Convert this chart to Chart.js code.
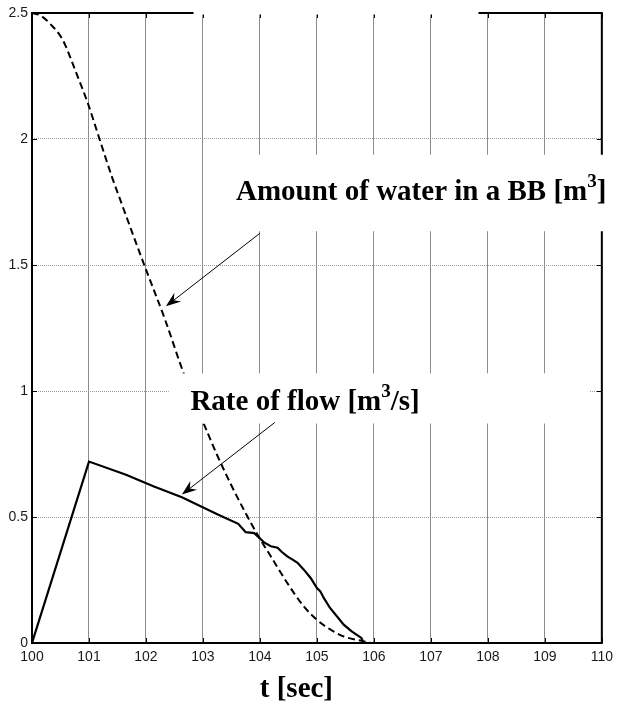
<!DOCTYPE html>
<html>
<head>
<meta charset="utf-8">
<title>Water amount and rate of flow</title>
<style>
  html, body { margin: 0; padding: 0; background: #ffffff; }
  #wrap { width: 619px; height: 706px; }
</style>
<script src="https://cdn.jsdelivr.net/npm/chart.js@4/dist/chart.umd.min.js"></script>
</head>
<body>
<div id="wrap"><canvas id="c" width="619" height="706"></canvas></div>
<script>
// Axis ticks
const timeTicks = [100, 101, 102, 103, 104, 105, 106, 107, 108, 109, 110];
const levelTicks = [0, 0.5, 1, 1.5, 2, 2.5];

// Amount of water in the box [m3] (dashed curve)
const waterTime   = [100, 100.15, 100.31, 100.54, 100.78, 100.98, 101.18, 101.41, 101.53, 101.97, 102.34, 102.66, 103.01, 103.25, 103.5, 103.75, 103.99, 104.19, 104.48, 104.77, 105.0, 105.24, 105.47, 105.76, 105.99, 110];
const waterAmount = [2.5, 2.49, 2.459, 2.393, 2.26, 2.142, 2.003, 1.845, 1.77, 1.5, 1.28, 1.071, 0.873, 0.745, 0.625, 0.515, 0.417, 0.344, 0.238, 0.145, 0.092, 0.053, 0.026, 0.01, 0, 0];

// Rate of flow [m3/s] (solid curve)
const flowTime = [100, 101, 101.65, 102.14, 102.63, 103.27, 103.62, 103.75, 103.9, 104.0, 104.08, 104.19, 104.31, 104.38, 104.48, 104.58, 104.66, 104.77, 104.89, 105.0, 105.06, 105.12, 105.23, 105.35, 105.47, 105.61, 105.78, 105.82, 110];
const flowRate = [0, 0.72, 0.668, 0.621, 0.578, 0.509, 0.473, 0.44, 0.436, 0.415, 0.398, 0.384, 0.378, 0.362, 0.344, 0.33, 0.318, 0.291, 0.258, 0.218, 0.205, 0.179, 0.139, 0.106, 0.073, 0.046, 0.02, 0, 0];

// Text callouts (data coordinates of the text's left baseline, arrow tail and tip)
const callouts = [
  { parts: [["Amount of water in a BB [m", false], ["3", true], ["]", false]],
    at: [103.58, 1.757], tail: [104.0, 1.626], tip: [102.35, 1.336] },
  { parts: [["Rate of flow [m", false], ["3", true], ["/s]", false]],
    at: [102.78, 0.923], tail: [104.26, 0.875], tip: [102.63, 0.589] }
];

// White backgrounds behind the callout texts: [t0, t1, v0, v1]
const textBackgrounds = [
  [102.835, 107.835, 2.494, 2.56],
  [103.1, 110.3, 1.634, 1.9375],
  [102.4, 109.79, 0.871, 1.07]
];

const xTitle = "t [sec]";
const serif = '"Liberation Serif", "Times New Roman", serif';
const sans = '"Liberation Sans", Arial, sans-serif';

function pts(xs, ys) { return xs.map((x, i) => ({ x: x, y: ys[i] })); }

function drawParts(ctx, x, y, parts) {
  let cx = x;
  ctx.textBaseline = 'alphabetic';
  ctx.textAlign = 'left';
  for (const [txt, sup] of parts) {
    ctx.font = sup ? 'bold 19px ' + serif : 'bold 29px ' + serif;
    ctx.fillText(txt, cx, sup ? y - 13 : y);
    cx += ctx.measureText(txt).width;
  }
}

function drawArrow(ctx, x0, y0, x1, y1) {
  const a = Math.atan2(y1 - y0, x1 - x0);
  const len = 15, half = 5.5, back = 10;
  ctx.strokeStyle = '#000';
  ctx.lineWidth = 1;
  ctx.beginPath();
  ctx.moveTo(x0, y0);
  ctx.lineTo(x1 - Math.cos(a) * back, y1 - Math.sin(a) * back);
  ctx.stroke();
  const bx = x1 - Math.cos(a) * len, by = y1 - Math.sin(a) * len;
  const nx = -Math.sin(a), ny = Math.cos(a);
  ctx.fillStyle = '#000';
  ctx.beginPath();
  ctx.moveTo(x1, y1);
  ctx.lineTo(bx + nx * half, by + ny * half);
  ctx.lineTo(x1 - Math.cos(a) * back, y1 - Math.sin(a) * back);
  ctx.lineTo(bx - nx * half, by - ny * half);
  ctx.closePath();
  ctx.fill();
}

const decorations = {
  id: 'decorations',
  afterDatasetsDraw(chart) {
    const { ctx, chartArea: a, scales: { x, y } } = chart;
    ctx.save();
    // axes box
    ctx.strokeStyle = '#000';
    ctx.lineWidth = 2;
    ctx.strokeRect(a.left, a.top, a.right - a.left, a.bottom - a.top);
    // inward tick marks on all four sides
    ctx.lineWidth = 1;
    ctx.beginPath();
    for (const t of timeTicks) {
      const px = Math.round(x.getPixelForValue(t)) + 0.5;
      ctx.moveTo(px, a.bottom); ctx.lineTo(px, a.bottom - 5);
      ctx.moveTo(px, a.top); ctx.lineTo(px, a.top + 5);
    }
    for (const v of levelTicks) {
      const py = Math.round(y.getPixelForValue(v)) + 0.5;
      ctx.moveTo(a.left, py); ctx.lineTo(a.left + 5, py);
      ctx.moveTo(a.right, py); ctx.lineTo(a.right - 5, py);
    }
    ctx.stroke();
    // text backgrounds
    ctx.fillStyle = '#ffffff';
    for (const [t0, t1, v0, v1] of textBackgrounds) {
      const X0 = x.getPixelForValue(t0), X1 = x.getPixelForValue(t1);
      const Y0 = y.getPixelForValue(v1), Y1 = y.getPixelForValue(v0);
      ctx.fillRect(X0, Y0, X1 - X0, Y1 - Y0);
    }
    // callouts
    ctx.fillStyle = '#000';
    for (const c of callouts) {
      drawParts(ctx, x.getPixelForValue(c.at[0]), y.getPixelForValue(c.at[1]), c.parts);
      drawArrow(ctx,
        x.getPixelForValue(c.tail[0]), y.getPixelForValue(c.tail[1]),
        x.getPixelForValue(c.tip[0]), y.getPixelForValue(c.tip[1]));
    }
    // x axis title
    ctx.fillStyle = '#000';
    ctx.font = 'bold 29px ' + serif;
    ctx.textAlign = 'center';
    ctx.textBaseline = 'alphabetic';
    ctx.fillText(xTitle, x.getPixelForValue(104.64), a.bottom + 54);
    ctx.restore();
  }
};

new Chart(document.getElementById('c'), {
  type: 'line',
  data: {
    datasets: [
      {
        label: 'Amount of water in a BB [m3]',
        data: pts(waterTime, waterAmount),
        borderColor: '#000',
        borderWidth: 2,
        borderDash: [7, 4],
        pointRadius: 0,
        fill: false,
        cubicInterpolationMode: 'monotone'
      },
      {
        label: 'Rate of flow [m3/s]',
        data: pts(flowTime, flowRate),
        borderColor: '#000',
        borderWidth: 2.2,
        pointRadius: 0,
        fill: false,
        tension: 0
      }
    ]
  },
  options: {
    responsive: false,
    animation: false,
    devicePixelRatio: 1,
    layout: { padding: { left: 0, right: 12, top: 13, bottom: 43 } },
    plugins: { legend: { display: false }, tooltip: { enabled: false } },
    scales: {
      x: {
        type: 'linear',
        min: 100, max: 110,
        afterBuildTicks: s => { s.ticks = timeTicks.map(v => ({ value: v })); },
        afterFit: s => { s.height = 20; },
        grid: { color: '#8c8c8c', lineWidth: 1, drawTicks: false },
        border: { display: false },
        ticks: { color: '#1a1a1a', font: { family: sans, size: 14 }, padding: 6, maxRotation: 0, autoSkip: false,
                 callback: v => String(v) }
      },
      y: {
        type: 'linear',
        min: 0, max: 2.5,
        afterBuildTicks: s => { s.ticks = levelTicks.map(v => ({ value: v })); },
        afterFit: s => { s.width = 32; },
        grid: { color: '#9a9a9a', lineWidth: 1, drawTicks: false },
        border: { display: false, dash: [1, 1] },
        ticks: { color: '#1a1a1a', font: { family: sans, size: 14 }, padding: 4, autoSkip: false,
                 callback: v => String(v) }
      }
    }
  },
  plugins: [decorations]
});
</script>
</body>
</html>
